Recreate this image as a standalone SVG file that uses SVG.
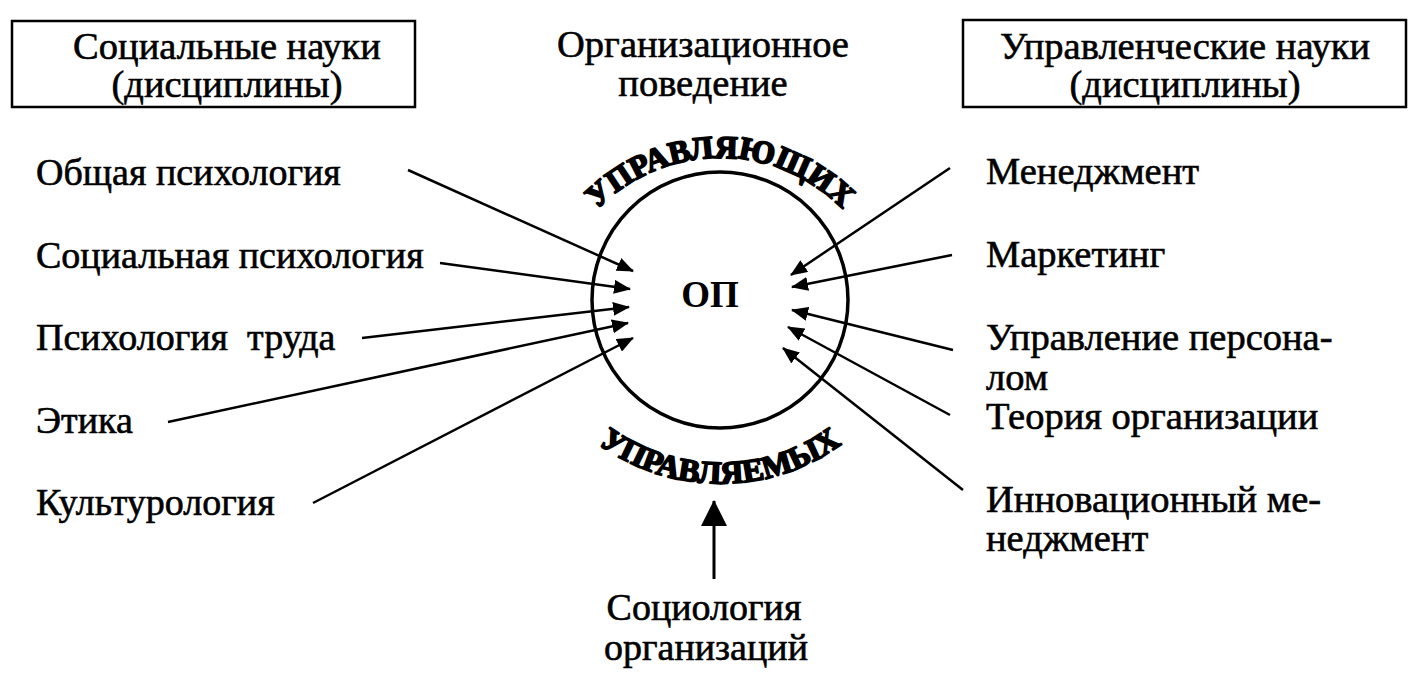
<svg xmlns="http://www.w3.org/2000/svg" width="1422" height="677" viewBox="0 0 1422 677">
<style>
.t{font-family:"Liberation Serif","Times New Roman",serif;font-size:38px;fill:#000;stroke:#000;stroke-width:0.6}
.r{font-size:38.5px}
.c{text-anchor:middle}
.arc{font-family:"Liberation Serif","Times New Roman",serif;font-size:32px;font-weight:bold;fill:#000;stroke:#000;stroke-width:1.8;stroke-linejoin:round}
.box{fill:none;stroke:#000;stroke-width:2.5}
.ln{stroke:#000;stroke-width:2.5;fill:none;marker-end:url(#ah)}
</style>
<defs>
<marker id="ah" viewBox="0 0 17 14" refX="16" refY="7" markerWidth="17" markerHeight="14" markerUnits="userSpaceOnUse" orient="auto">
<path d="M0,0 L17,7 L0,14 z" fill="#000"/>
</marker>
<marker id="ahb" viewBox="0 0 26 26" refX="25" refY="13" markerWidth="26" markerHeight="26" markerUnits="userSpaceOnUse" orient="auto">
<path d="M0,0 L26,13 L0,26 z" fill="#000"/>
</marker>
<path id="topArc" d="M571,244 A172,172 0 0 1 869,244"/>
<path id="botArc" d="M541.3,382 A208,208 0 0 0 898.7,382"/>
</defs>

<g id="social-header">
<rect class="box" x="12" y="21" width="403" height="86"/>
<text class="t r c" x="227" y="59">Социальные науки</text>
<text class="t r c" x="227" y="97">(дисциплины)</text>
</g>
<g id="ob-header">
<text class="t r c" x="703" y="57">Организационное</text>
<text class="t r c" x="703" y="96">поведение</text>
</g>
<g id="mgmt-header">
<rect class="box" x="963" y="20" width="443" height="87"/>
<text class="t r c" x="1185" y="59">Управленческие науки</text>
<text class="t r c" x="1185" y="97">(дисциплины)</text>
</g>

<g id="op">
<circle cx="720" cy="300" r="128" fill="none" stroke="#000" stroke-width="3.5"/>
<text x="710" y="307" text-anchor="middle" font-family="Liberation Serif, Times New Roman, serif" font-size="37" font-weight="bold">ОП</text>
<text class="arc"><textPath href="#topArc" startOffset="50%" text-anchor="middle">УПРАВЛЯЮЩИХ</textPath></text>
<text class="arc"><textPath href="#botArc" startOffset="50%" text-anchor="middle">УПРАВЛЯЕМЫХ</textPath></text>
</g>

<g id="n-gen-psy"><text class="t" x="36" y="185">Общая психология</text></g>
<g id="n-soc-psy"><text class="t" x="36" y="268">Социальная психология</text></g>
<g id="n-work-psy"><text class="t" x="36" y="350" xml:space="preserve">Психология  труда</text></g>
<g id="n-ethics"><text class="t" x="36" y="433">Этика</text></g>
<g id="n-cult"><text class="t" x="36" y="515">Культурология</text></g>

<g id="n-mgmt"><text class="t r" x="986" y="184">Менеджмент</text></g>
<g id="n-mark"><text class="t r" x="986" y="267">Маркетинг</text></g>
<g id="n-hr"><text class="t r" x="986" y="350">Управление персона-</text><text class="t r" x="986" y="390">лом</text></g>
<g id="n-org"><text class="t r" x="986" y="429">Теория организации</text></g>
<g id="n-innov"><text class="t r" x="986" y="512">Инновационный ме-</text><text class="t r" x="986" y="551">неджмент</text></g>

<g id="n-socorg">
<text class="t c" x="704" y="620">Социология</text>
<text class="t c" x="706" y="660">организаций</text>
</g>

<g id="connectors">
<line class="ln" x1="408" y1="170" x2="633" y2="271"/>
<line class="ln" x1="440" y1="263" x2="630" y2="289"/>
<line class="ln" x1="362" y1="338" x2="629" y2="307"/>
<line class="ln" x1="168" y1="422" x2="628" y2="323"/>
<line class="ln" x1="313" y1="503" x2="633" y2="338"/>
<line class="ln" x1="950" y1="168" x2="791" y2="275"/>
<line class="ln" x1="952" y1="255" x2="792" y2="287"/>
<line class="ln" x1="953" y1="350" x2="792" y2="310"/>
<line class="ln" x1="950" y1="415" x2="788" y2="327"/>
<line class="ln" x1="963" y1="490" x2="783" y2="348"/>
<line x1="714" y1="579" x2="714" y2="501" stroke="#000" stroke-width="3" marker-end="url(#ahb)"/>
</g>
</svg>
